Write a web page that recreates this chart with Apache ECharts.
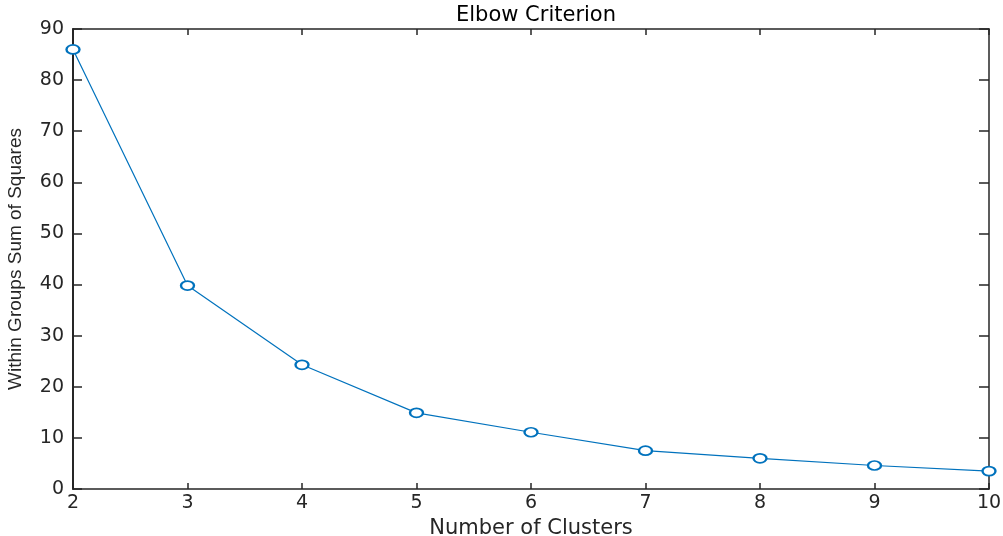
<!DOCTYPE html>
<html>
<head>
<meta charset="utf-8">
<script src="https://cdn.jsdelivr.net/npm/echarts@6/dist/echarts.min.js"></script>
<style>
  html, body { margin: 0; padding: 0; background: #fff; }
  #chart { width: 1003px; height: 536px; }
</style>
</head>
<body>
<div id="chart"></div>
<script>
// cluster counts and within-groups sum of squares
var clusters = [2, 3, 4, 5, 6, 7, 8, 9, 10];
var wcss = [86.0, 39.8, 24.3, 14.9, 11.1, 7.5, 6.0, 4.6, 3.5];
var yTicks = [0, 10, 20, 30, 40, 50, 60, 70, 80, 90];

var axisColor = '#262626';
var lineColor = '#0072BD';
var tickFont = 'DejaVu Sans, Arial, sans-serif';

var points = [];
for (var i = 0; i < clusters.length; i++) {
    points.push([clusters[i], wcss[i]]);
}

// box axes (top/right) only carry ticks, no labels
var boxAxis = function(pos, len) {
    return {
        type: 'value',
        position: pos,
        min: pos == 'top' ? 2 : yTicks[0],
        max: pos == 'top' ? 10 : yTicks[yTicks.length - 1],
        interval: pos == 'top' ? 1 : 10,
        axisLine: { show: true, onZero: false, lineStyle: { color: axisColor, width: 1.5 } },
        axisTick: { show: true, inside: true, length: len, lineStyle: { color: axisColor, width: 1.5 } },
        axisLabel: { show: false },
        splitLine: { show: false }
    };
};

var chart = echarts.init(document.getElementById('chart'));
chart.setOption({
    animation: false,
    backgroundColor: '#fff',
    title: {
        text: 'Elbow Criterion',
        left: 531,
        textAlign: 'center',
        top: 0,
        textStyle: { fontFamily: tickFont, fontSize: 21, fontWeight: 'normal', color: '#000' }
    },
    grid: { left: 73, right: 14, top: 29, bottom: 47, outerBoundsMode: 'none', containLabel: false },
    xAxis: [{
        type: 'value',
        position: 'bottom',
        min: 2,
        max: 10,
        interval: 1,
        name: 'Number of Clusters',
        nameLocation: 'middle',
        nameGap: 29,
        nameTextStyle: { fontFamily: tickFont, fontSize: 21, color: '#262626' },
        axisLine: { show: true, onZero: false, lineStyle: { color: axisColor, width: 1.5 } },
        axisTick: { show: true, inside: true, length: 6, lineStyle: { color: axisColor, width: 1.5 } },
        axisLabel: { fontFamily: tickFont, fontSize: 19, color: '#262626', margin: 5 },
        splitLine: { show: false }
    }, boxAxis('top', 6)],
    yAxis: [{
        type: 'value',
        position: 'left',
        min: yTicks[0],
        max: yTicks[yTicks.length - 1],
        interval: 10,
        name: 'Within Groups Sum of Squares',
        nameLocation: 'middle',
        nameGap: 48,
        nameTextStyle: { fontFamily: 'Liberation Sans Narrow, Liberation Sans, sans-serif', fontSize: 19, color: '#262626' },
        axisLine: { show: true, onZero: false, lineStyle: { color: axisColor, width: 2 } },
        axisTick: { show: true, inside: true, length: 9, lineStyle: { color: axisColor, width: 1.5 } },
        axisLabel: { fontFamily: tickFont, fontSize: 19, color: '#262626', margin: 9 },
        splitLine: { show: false }
    }, boxAxis('right', 10)],
    series: [{
        type: 'line',
        data: points,
        symbol: 'emptyCircle',
        symbolSize: [13, 9],
        showAllSymbol: true,
        lineStyle: { color: lineColor, width: 1.2 },
        itemStyle: { color: lineColor, borderColor: lineColor, borderWidth: 1.3 },
        clip: false
    }]
});
</script>
</body>
</html>
